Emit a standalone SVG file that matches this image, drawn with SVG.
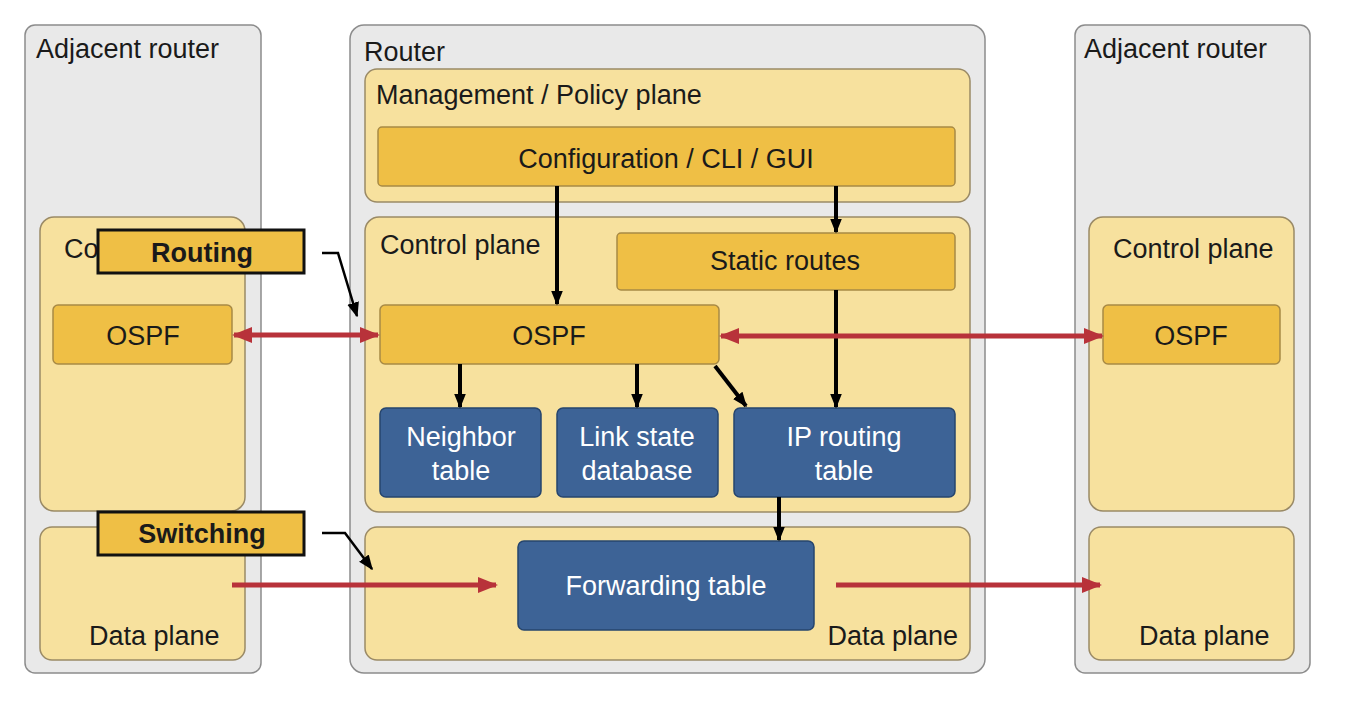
<svg xmlns="http://www.w3.org/2000/svg" width="1346" height="702" viewBox="0 0 1346 702">
<style>
text{font-family:"Liberation Sans",Arial,sans-serif;font-size:27px;fill:#1a1a1a}
.c{text-anchor:middle}
.w{fill:#ffffff}
.b{font-weight:bold}
.outer{fill:#e9e9e9;stroke:#8c8c8c;stroke-width:1.5}
.plane{fill:#f7e19e;stroke:#9a8a66;stroke-width:1.5}
.box{fill:#efbf45;stroke:#a88a45;stroke-width:1.5}
.blue{fill:#3d6396;stroke:#26456e;stroke-width:1.5}
.tag{fill:#efbf45;stroke:#111;stroke-width:3}
.blk{stroke:#000;stroke-width:4;fill:none}
.red{stroke:#b8323a;stroke-width:5;fill:none}
</style>
<defs>
<marker id="ab" viewBox="0 0 10 10" refX="9" refY="5" markerWidth="15" markerHeight="15" markerUnits="userSpaceOnUse" orient="auto-start-reverse">
<path d="M0,1 L10,5 L0,9 Z" fill="#000"/>
</marker>
<marker id="ar" viewBox="0 0 10 10" refX="9" refY="5" markerWidth="20" markerHeight="20" markerUnits="userSpaceOnUse" orient="auto-start-reverse">
<path d="M0,1 L10,5 L0,9 Z" fill="#b8323a"/>
</marker>
</defs>
<rect width="1346" height="702" fill="#ffffff"/>

<g id="left-router">
<rect class="outer" x="25" y="25" width="236" height="648" rx="10"/>
<text x="36" y="58">Adjacent router</text>
<rect class="plane" x="40" y="217" width="205" height="294" rx="14"/>
<text x="64" y="258">Co</text>
<rect class="plane" x="40" y="527" width="205" height="133" rx="12"/>
<text x="89" y="645">Data plane</text>
</g>
<g id="left-ospf">
<rect class="box" x="53" y="305" width="179" height="59" rx="5"/>
<text class="c" x="143" y="345">OSPF</text>
</g>

<g id="router">
<rect class="outer" x="350" y="25" width="635" height="648" rx="14"/>
<text x="364" y="61">Router</text>
</g>
<g id="mgmt-plane">
<rect class="plane" x="365" y="69" width="605" height="133" rx="12"/>
<text x="376" y="104">Management / Policy plane</text>
</g>
<g id="config">
<rect class="box" x="378" y="127" width="577" height="59" rx="4"/>
<text class="c" x="666" y="168">Configuration / CLI / GUI</text>
</g>
<g id="control-plane">
<rect class="plane" x="365" y="217" width="605" height="295" rx="14"/>
<text x="380" y="254">Control plane</text>
</g>
<g id="static-routes">
<rect class="box" x="617" y="233" width="338" height="57" rx="4"/>
<text class="c" x="785" y="270">Static routes</text>
</g>
<g id="ospf">
<rect class="box" x="380" y="305" width="339" height="59" rx="5"/>
<text class="c" x="549" y="345">OSPF</text>
</g>
<g id="neighbor-table">
<rect class="blue" x="380" y="408" width="161" height="89" rx="6"/>
<text class="c w" x="461" y="446">Neighbor</text>
<text class="c w" x="461" y="480">table</text>
</g>
<g id="lsdb">
<rect class="blue" x="557" y="408" width="161" height="89" rx="6"/>
<text class="c w" x="637" y="446">Link state</text>
<text class="c w" x="637" y="480">database</text>
</g>
<g id="ip-routing-table">
<rect class="blue" x="734" y="408" width="221" height="89" rx="6"/>
<text class="c w" x="844" y="446">IP routing</text>
<text class="c w" x="844" y="480">table</text>
</g>
<g id="data-plane">
<rect class="plane" x="365" y="527" width="605" height="133" rx="12"/>
<text x="958" y="645" text-anchor="end">Data plane</text>
</g>
<g id="forwarding-table">
<rect class="blue" x="518" y="541" width="296" height="89" rx="6"/>
<text class="c w" x="666" y="595">Forwarding table</text>
</g>

<g id="right-router">
<rect class="outer" x="1075" y="25" width="235" height="648" rx="10"/>
<text x="1084" y="58">Adjacent router</text>
<rect class="plane" x="1089" y="217" width="205" height="294" rx="14"/>
<text x="1113" y="258">Control plane</text>
<rect class="plane" x="1089" y="527" width="205" height="133" rx="12"/>
<text x="1139" y="645">Data plane</text>
</g>
<g id="right-ospf">
<rect class="box" x="1103" y="305" width="177" height="59" rx="5"/>
<text class="c" x="1191" y="345">OSPF</text>
</g>

<g id="routing-label">
<rect class="tag" x="98" y="230" width="206" height="43"/>
<text class="c b" x="202" y="262">Routing</text>
</g>
<g id="switching-label">
<rect class="tag" x="98" y="512" width="206" height="43"/>
<text class="c b" x="202" y="543">Switching</text>
</g>

<g id="connectors">
<line class="blk" x1="557" y1="186" x2="557" y2="304" marker-end="url(#ab)"/>
<line class="blk" x1="836" y1="186" x2="836" y2="232" marker-end="url(#ab)"/>
<line class="blk" x1="836" y1="290" x2="836" y2="407" marker-end="url(#ab)"/>
<line class="blk" x1="460" y1="364" x2="460" y2="407" marker-end="url(#ab)"/>
<line class="blk" x1="637" y1="364" x2="637" y2="407" marker-end="url(#ab)"/>
<line class="blk" x1="715" y1="366" x2="746" y2="406" marker-end="url(#ab)"/>
<line class="blk" x1="779" y1="497" x2="779" y2="540" marker-end="url(#ab)"/>
<path d="M322,253 L338,253 L357,316" stroke="#000" stroke-width="2.5" fill="none" marker-end="url(#ab)"/>
<path d="M322,533 L345,533 L372,569" stroke="#000" stroke-width="2.5" fill="none" marker-end="url(#ab)"/>
<line class="red" x1="234" y1="335" x2="378" y2="335" marker-start="url(#ar)" marker-end="url(#ar)"/>
<line class="red" x1="721" y1="336" x2="1102" y2="336" marker-start="url(#ar)" marker-end="url(#ar)"/>
<line class="red" x1="232" y1="585" x2="496" y2="585" marker-end="url(#ar)"/>
<line class="red" x1="836" y1="585" x2="1100" y2="585" marker-end="url(#ar)"/>
</g>
</svg>
